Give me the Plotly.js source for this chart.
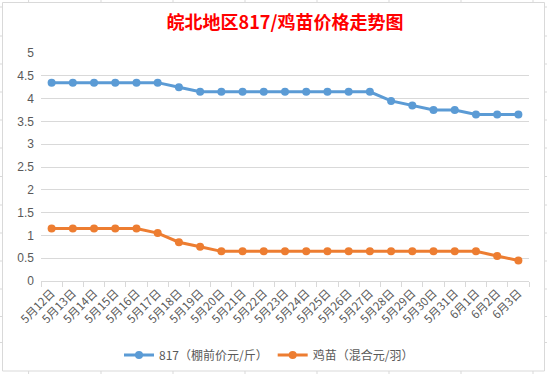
<!DOCTYPE html>
<html>
<head>
<meta charset="utf-8">
<script src="https://cdn.plot.ly/plotly-3.0.1.min.js"></script>
<style>html,body{margin:0;padding:0;background:#fff;}#chart{width:547px;height:374px;}</style>
</head>
<body>
<div id="chart"></div>
<script>
const categories = ["5月12日","5月13日","5月14日","5月15日","5月16日","5月17日","5月18日","5月19日","5月20日","5月21日","5月22日","5月23日","5月24日","5月25日","5月26日","5月27日","5月28日","5月29日","5月30日","5月31日","6月1日","6月2日","6月3日"];
const price817 = [4.35,4.35,4.35,4.35,4.35,4.35,4.25,4.15,4.15,4.15,4.15,4.15,4.15,4.15,4.15,4.15,3.95,3.85,3.75,3.75,3.65,3.65,3.65];
const chickPrice = [1.15,1.15,1.15,1.15,1.15,1.05,0.85,0.75,0.65,0.65,0.65,0.65,0.65,0.65,0.65,0.65,0.65,0.65,0.65,0.65,0.65,0.55,0.45];
const seriesNames = ["817（棚前价元/斤）","鸡苗（混合元/羽）"];
const yTicks = [0,0.5,1,1.5,2,2.5,3,3.5,4,4.5,5];

// pixel -> paper helpers for the surrounding frame
const L = 41, R = 529, T = 53, B = 281;
const px = x => (x - L) / (R - L);
const py = y => (B - y) / (B - T);

const shapes = [];
const frameColor = '#d9d9d9';
shapes.push({type:'rect', xref:'paper', yref:'paper', x0:px(2.5), x1:px(544.5), y0:py(2.5), y1:py(371), line:{color:frameColor, width:1}, layer:'below'});
const cols = [28.6,101,173,245,317,389,461,533];
cols.forEach(c => {
  shapes.push({type:'line', xref:'paper', yref:'paper', x0:px(c), x1:px(c), y0:py(0), y1:py(2.5), line:{color:frameColor, width:1}});
  shapes.push({type:'line', xref:'paper', yref:'paper', x0:px(c), x1:px(c), y0:py(371), y1:py(374), line:{color:frameColor, width:1}});
});
const rows = [7,36,64,92,120,148,176.5,205,233,261,289,316.5,342.5];
rows.forEach(r => {
  shapes.push({type:'line', xref:'paper', yref:'paper', x0:px(0), x1:px(2.5), y0:py(r), y1:py(r), line:{color:frameColor, width:1}});
  shapes.push({type:'line', xref:'paper', yref:'paper', x0:px(544.5), x1:px(547), y0:py(r), y1:py(r), line:{color:frameColor, width:1}});
});

const font = '"Noto Sans CJK SC", "Noto Sans", sans-serif';
const data = [
  {x: categories, y: price817, name: seriesNames[0], type:'scatter', mode:'lines+markers',
   line:{color:'#5b9bd5', width:3}, marker:{color:'#5b9bd5', size:8}},
  {x: categories, y: chickPrice, name: seriesNames[1], type:'scatter', mode:'lines+markers',
   line:{color:'#ed7d31', width:3}, marker:{color:'#ed7d31', size:8}}
];
const layout = {
  width:547, height:374,
  margin:{l:L, r:547-R, t:T, b:374-B, pad:0, autoexpand:false},
  paper_bgcolor:'#fff', plot_bgcolor:'#fff',
  font:{family:font, color:'#595959', size:11},
  title:{text:'<b>皖北地区817/鸡苗价格走势图</b>', font:{family:font, size:18, color:'#ff0000'}, x:0.5, xref:'paper', xanchor:'center', y:1-23/374, yanchor:'middle'},
  xaxis:{type:'category', range:[-0.5, categories.length - 0.5], autorange:false, automargin:false, tickangle:-45, showgrid:false, showline:true, linecolor:'#d9d9d9', linewidth:1,
         ticks:'outside', tickson:'boundaries', ticklen:5, tickcolor:'#d9d9d9', tickfont:{size:11.5, color:'#595959', family:font},
         zeroline:false, fixedrange:true},
  yaxis:{range:[0,5], automargin:false, tickvals:yTicks, ticktext:yTicks.map(String), showgrid:true, gridcolor:'#d9d9d9', gridwidth:1,
         showline:false, zeroline:false, ticks:'', tickfont:{size:12, color:'#595959', family:'Liberation Sans, sans-serif'}, ticklabelstandoff:6},
  showlegend:true,
  legend:{orientation:'h', x:px(269), xanchor:'center', y:py(355), yanchor:'middle', font:{size:12, color:'#595959', family:font}, itemwidth:30, bgcolor:'rgba(0,0,0,0)'},
  shapes: shapes
};
Plotly.newPlot('chart', data, layout, {displayModeBar:false, staticPlot:true});
</script>
</body>
</html>
